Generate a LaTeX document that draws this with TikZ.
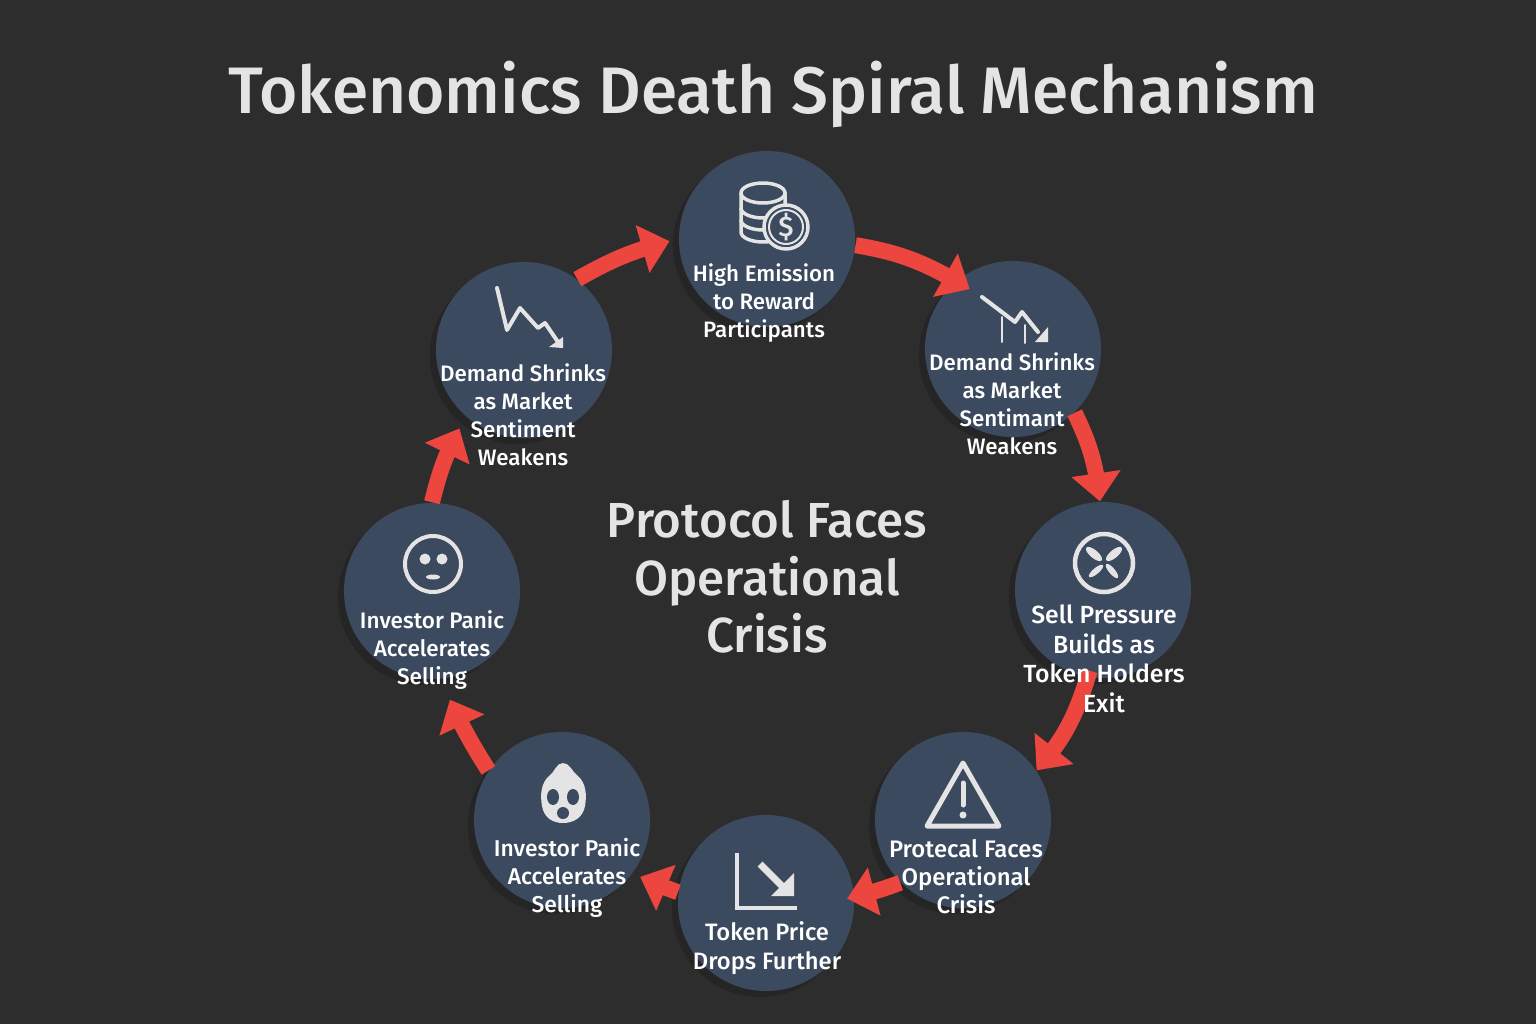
\documentclass[tikz,border=0pt]{standalone}
\usepackage{fontspec}
\setmainfont{Fira Sans}
\newfontfamily\titlefont{Fira Sans Medium}
\usetikzlibrary{arrows.meta,bending,shadows}
\definecolor{bgdark}{HTML}{2D2D2D}
\definecolor{shadedark}{HTML}{252525}
\definecolor{discblue}{HTML}{3B4A5F}
\definecolor{flowred}{HTML}{EC463F}
\definecolor{iconwhite}{HTML}{E4E4E4}
\tikzset{
	disc/.style={circle, fill=discblue, minimum size=1.76cm, inner sep=0,
		general shadow={fill=shadedark, shadow xshift=-0.06cm, shadow yshift=-0.06cm}},
	caption/.style={text=white, align=center, font=\titlefont\fontsize{#1}{7.95}\selectfont},
	flow/.style={draw=flowred, line width=0.16cm, -{Triangle[length=0.28cm, width=0.48cm, flex]}},
	icon/.style={draw=iconwhite, line width=0.035cm, line join=round, line cap=round}
}

\begin{document}
\begin{tikzpicture}[x=0.01cm, y=-0.01cm]
		%%%%% START %%%%%
		
		\fill[bgdark] (0, 0) rectangle (1536, 1024);
		
		\node[text=iconwhite, font=\titlefont\fontsize{18.7}{20}\selectfont] (title) at (773, 94) {Tokenomics Death Spiral Mechanism};
		\node[text=iconwhite, align=center, font=\titlefont\fontsize{14}{16.35}\selectfont] (crisis) at (767, 577) {Protocol Faces\\Operational\\Crisis};
		
		\node[disc] (emission) at (767, 239) {};
		\node[disc] (demandright) at (1013, 349) {};
		\node[disc] (sell) at (1103, 590) {};
		\node[disc] (protocol) at (963, 820) {};
		\node[disc] (price) at (766, 903) {};
		\node[disc] (panicdown) at (562, 820) {};
		\node[disc] (panicup) at (432, 591) {};
		\node[disc] (demandleft) at (524, 350) {};
		
		\draw[flow, shorten >=-0.15cm] (emission.-4) to[bend left=10] (demandright.130);
		\draw[flow] (demandright.-46) to[bend left=10] (sell.92);
		\draw[flow, shorten <=-0.07cm] (sell.-100) to[bend left=12] (protocol.34);
		\draw[flow, shorten >=-0.07cm] (protocol.-135) to[bend left=3] (price.4);
		\draw[flow, shorten >=0.08cm] (price.173) to[bend left=3] (panicdown.-37);
		\draw[flow, shorten >=0.22cm] (panicdown.146) to[bend left=5] (panicup.-84);
		\draw[flow, shorten >=0.13cm] (panicup.90) to[bend left=8] (demandleft.-131);
		\draw[flow, shorten >=0.09cm] (demandleft.53) to[bend left=8] (emission.180);
		
		%%%%% ICONS %%%%%
		
		\draw[icon, fill=discblue] (741, 193) -- (741, 232) arc (180:0:22 and 10) -- (785, 193);
		\draw[icon] (741, 208) arc (180:0:22 and 10);
		\draw[icon] (741, 220) arc (180:0:22 and 10);
		\draw[icon, fill=discblue] (763, 193) ellipse (22 and 10);
		\draw[icon, fill=discblue] (786, 227) circle (22);
		\draw[icon, line width=0.02cm] (786, 227) circle (17);
		\node[text=iconwhite, font=\titlefont\fontsize{8}{8}\selectfont] (dollar) at (786, 227) {\$};
		
		\draw[icon, line width=0.04cm] (982, 297) -- (1015, 322) -- (1022, 312) -- (1038, 332);
		\fill[iconwhite] (1048, 327) -- (1048, 342) -- (1035, 342) -- cycle;
		\draw[icon, line width=0.02cm] (1002, 317) -- (1002, 342);
		\draw[icon, line width=0.02cm] (1025, 325) -- (1025, 343);
		
		\draw[icon, line width=0.045cm] (1104, 563) circle (29);
		\fill[iconwhite, rotate around={-40:(1094, 554)}] (1094, 554) ellipse (10 and 4);
		\fill[iconwhite, rotate around={40:(1114, 554)}] (1114, 554) ellipse (10 and 4);
		\fill[iconwhite, rotate around={40:(1096, 571)}] (1096, 571) ellipse (9 and 3);
		\fill[iconwhite, rotate around={-50:(1112, 571)}] (1112, 571) ellipse (9 and 3);
		
		\draw[icon, line width=0.05cm] (927, 826) -- (963, 763) -- (999, 826) -- cycle;
		\draw[icon, line width=0.05cm] (963, 783) -- (963, 805);
		\fill[iconwhite] (963, 815) circle (3.5);
		
		\draw[icon, line width=0.04cm, line cap=butt, line join=miter] (737, 853) -- (737, 908) -- (797, 908);
		\draw[icon, line width=0.07cm, line cap=butt] (760, 864) -- (782, 886);
		\fill[iconwhite] (794, 873) -- (794, 896) -- (771, 896) -- cycle;
		
		\fill[iconwhite] (563, 763) .. controls (570, 763) and (572, 772) .. (578, 776) .. controls (586, 783) and (587, 795) .. (585, 806) .. controls (583, 818) and (573, 823) .. (563, 823) .. controls (553, 823) and (544, 818) .. (542, 806) .. controls (540, 795) and (541, 783) .. (549, 776) .. controls (555, 772) and (556, 763) .. (563, 763) -- cycle;
		\fill[discblue] (553, 797) ellipse (6 and 8);
		\fill[discblue] (573, 797) ellipse (6 and 8);
		\fill[discblue] (563, 813) circle (6);
		
		\draw[icon, line width=0.04cm] (433, 564) circle (28);
		\fill[iconwhite] (425, 559) circle (5.5);
		\fill[iconwhite] (442, 559) circle (5.5);
		\fill[iconwhite] (433, 577) ellipse (7 and 2.5);
		
		\draw[icon, line width=0.04cm] (497, 288) -- (507, 330) -- (520, 308) -- (538, 328) -- (545, 323) -- (558, 342);
		\fill[iconwhite] (563, 337) -- (563, 348) -- (549, 347) -- cycle;
		
		%%%%% LABELS %%%%%
		
		\node[caption=6.35] (emissiontext) at (764, 303) {High Emission\\to Reward\\Participants};
		\node[caption=6.35] (demandrighttext) at (1012, 404) {Demand Shrinks\\as Market\\Sentimant\\Weakens};
		\node[caption=7.05, font=\titlefont\fontsize{7.05}{8.4}\selectfont] (selltext) at (1104, 659) {Sell Pressure\\Builds as\\Token Holders\\Exit};
		\node[caption=6.8] (protocoltext) at (966, 877) {Protecal Faces\\Operational\\Crisis};
		\node[caption=6.75, font=\titlefont\fontsize{6.75}{8.2}\selectfont] (pricetext) at (767, 948) {Token Price\\Drops Further};
		\node[caption=6.5] (panicdowntext) at (567, 878) {Investor Panic\\Accelerates\\Selling};
		\node[caption=6.4] (paniccuptext) at (432, 650) {Investor Panic\\Accelerates\\Selling};
		\node[caption=6.35] (demandlefttext) at (523, 415) {Demand Shrinks\\as Market\\Sentiment\\Weakens};
		
		%%%%% END %%%%%
	\end{tikzpicture}
\end{document}
